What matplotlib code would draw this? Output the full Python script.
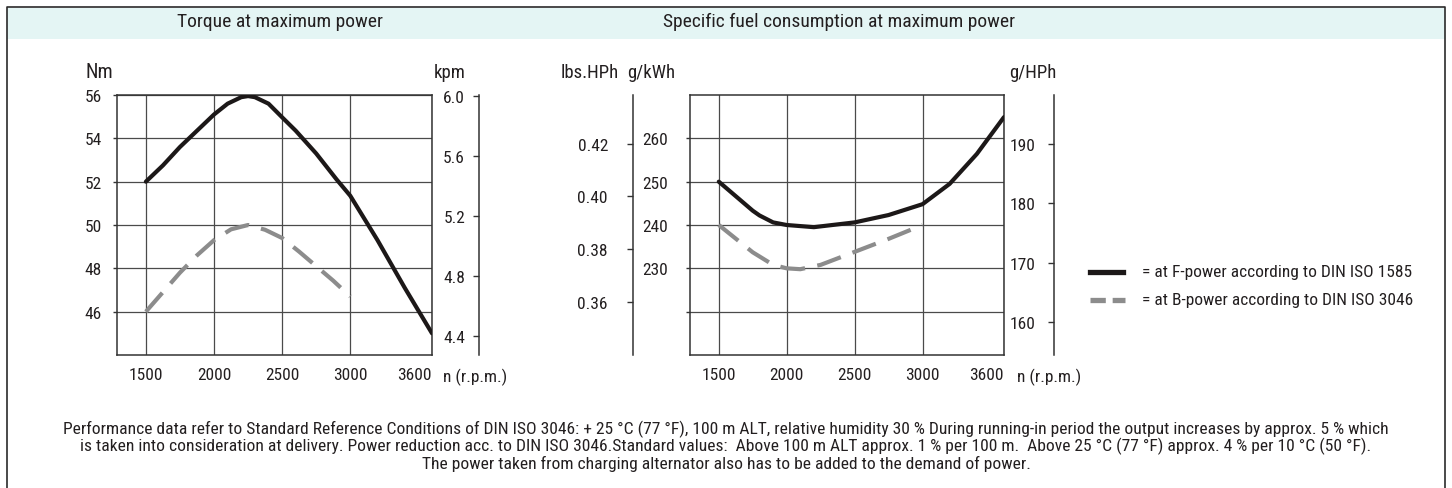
import matplotlib.pyplot as plt
from matplotlib.lines import Line2D
from matplotlib.patches import Rectangle

W, H = 1452, 489

# Torque at maximum power (rpm -> Nm)
torque_f_rpm = [1500, 1625, 1750, 1800, 1900, 2000, 2100, 2200, 2250, 2300, 2400, 2500,
                2600, 2750, 2900, 3000, 3200, 3400, 3600]
torque_f_nm = [52.0, 52.75, 53.6, 53.9, 54.5, 55.1, 55.6, 55.9, 55.95, 55.9, 55.6, 54.97,
               54.35, 53.3, 52.1, 51.35, 49.3, 47.1, 45.0]
torque_b_rpm = [1500, 1625, 1750, 1875, 2000, 2125, 2250, 2375, 2500, 2625, 2750, 2875, 3000]
torque_b_nm = [46.0, 46.9, 47.8, 48.6, 49.3, 49.8, 50.0, 49.78, 49.4, 48.77, 48.1, 47.43, 46.7]

# Specific fuel consumption (rpm -> g/kWh)
sfc_f_rpm = [1500, 1750, 1800, 1900, 2000, 2200, 2500, 2750, 3000, 3200, 3400, 3600]
sfc_f_gkwh = [250.0, 243.3, 242.2, 240.6, 240.0, 239.5, 240.6, 242.3, 244.8, 249.5, 256.4, 264.9]
sfc_b_rpm = [1500, 1750, 1900, 2000, 2100, 2250, 2500, 2750, 3000]
sfc_b_gkwh = [240.0, 233.7, 230.8, 230.0, 229.8, 230.8, 233.8, 236.8, 240.0]

rpm_ticks = [1500, 2000, 2500, 3000, 3600]
nm_ticks = [46, 48, 50, 52, 54, 56]
kpm_ticks = [4.4, 4.8, 5.2, 5.6, 6.0]
gkwh_ticks = [220, 230, 240, 250, 260]
gkwh_labels = ["", "230", "240", "250", "260"]
lbs_ticks = [0.36, 0.38, 0.40, 0.42]
ghph_ticks = [160, 170, 180, 190]

titles = ["Torque at maximum power", "Specific fuel consumption at maximum power"]
legend_labels = ["= at F-power according to DIN ISO 1585", "= at B-power according to DIN ISO 3046"]
footer = [
    "Performance data refer to Standard Reference Conditions of DIN ISO 3046: + 25 \u00b0C (77 \u00b0F), 100 m ALT, "
    "relative humidity 30 % During running-in period the output increases by approx. 5 % which",
    "is taken into consideration at delivery. Power reduction acc. to DIN ISO 3046.Standard values:  Above 100 m ALT "
    "approx. 1 % per 100 m.  Above 25 \u00b0C (77 \u00b0F) approx. 4 % per 10 \u00b0C (50 \u00b0F).",
    "The power taken from charging alternator also has to be added to the demand of power.",
]

plt.rcParams['font.family'] = ['Roboto Condensed', 'Liberation Sans', 'DejaVu Sans']
TXT = '#231f20'
LINE = '#333333'
BLACK = '#1c1818'
GRAY = '#8c8c8c'
TICK_FS = 12.5
UNIT_FS = 13.5


def box(x0, y0, x1, y1):
    return [x0 / W, 1 - y1 / H, (x1 - x0) / W, (y1 - y0) / H]


def fx(x):
    return x / W


def fy(y):
    return 1 - y / H


def main_axes(fig, x0, x1, ylim, yticks, ylabels, ypad):
    ax = fig.add_axes(box(x0, 96, x1, 356))
    ax.set_xlim(1288, 3600)
    ax.set_ylim(*ylim)
    ax.set_xticks(rpm_ticks)
    ax.set_xticklabels([str(t) for t in rpm_ticks])
    ax.get_xticklabels()[-1].set_horizontalalignment('right')
    ax.set_yticks(yticks)
    ax.set_yticklabels(ylabels)
    ax.tick_params(axis='x', length=0, pad=9, labelsize=TICK_FS, labelcolor=TXT)
    ax.tick_params(axis='y', length=3, width=1, color=LINE, pad=ypad, labelsize=TICK_FS, labelcolor=TXT)
    ax.grid(True, color='#4a4a4a', linewidth=0.9)
    for s in ax.spines.values():
        s.set_color(LINE)
        s.set_linewidth(1.1)
    ax.set_facecolor('none')
    return ax


def side_axis(fig, x, ylim, yticks, pad, fmt):
    a = fig.add_axes(box(x, 96, x + 0.5, 356))
    a.set_ylim(*ylim)
    a.set_yticks(yticks)
    a.set_yticklabels([fmt.format(t) for t in yticks])
    a.set_xticks([])
    for k in ['right', 'top', 'bottom']:
        a.spines[k].set_visible(False)
    a.spines['left'].set_color(LINE)
    a.spines['left'].set_linewidth(1.1)
    a.tick_params(axis='y', length=4, width=1, color=LINE, pad=pad, labelsize=TICK_FS, labelcolor=TXT)
    a.set_facecolor('none')
    return a


fig = plt.figure(figsize=(W / 100, H / 100), dpi=100)

# frame and header band
fig.patches.append(Rectangle((fx(7), fy(40)), fx(1445) - fx(7), fy(9) - fy(40),
                             transform=fig.transFigure, facecolor='#e4f5f4', edgecolor='none', zorder=0))
fig.add_artist(Line2D([fx(7), fx(7), fx(1445), fx(1445)], [0, fy(8), fy(8), 0],
                      transform=fig.transFigure, color='#2a2a2a', linewidth=1.2))
fig.text(fx(280), fy(22), titles[0], ha='center', va='center', fontsize=14, color=TXT)
fig.text(fx(839), fy(22), titles[1], ha='center', va='center', fontsize=14, color=TXT)

# ---- torque chart
ax1 = main_axes(fig, 117, 432, (44.0, 56.0), nm_ticks, [str(t) for t in nm_ticks], 8)
ax1.plot(torque_f_rpm, torque_f_nm, color=BLACK, linewidth=3.0, solid_capstyle='round', zorder=3)
ax1.plot(torque_b_rpm, torque_b_nm, color=GRAY, linewidth=3.0, dashes=(6, 3), zorder=3)
side_axis(fig, 479, (4.27, 6.01), kpm_ticks, 6, "{:.1f}")
fig.text(fx(99), fy(73), "Nm", ha='center', va='center', fontsize=14.5, color=TXT)
fig.text(fx(450), fy(73), "kpm", ha='center', va='center', fontsize=UNIT_FS, color=TXT)
fig.text(fx(443), fy(377), "n (r.p.m.)", ha='left', va='center', fontsize=TICK_FS, color=TXT)

# ---- fuel consumption chart
ax2 = main_axes(fig, 690, 1004, (210, 270), gkwh_ticks, gkwh_labels, 13)
ax2.plot(sfc_f_rpm, sfc_f_gkwh, color=BLACK, linewidth=3.0, solid_capstyle='round', zorder=3)
ax2.plot(sfc_b_rpm, sfc_b_gkwh, color=GRAY, linewidth=3.0, dashes=(6, 3), zorder=3)
side_axis(fig, 633, (0.3397, 0.4386), lbs_ticks, 14, "{:.2f}")
side_axis(fig, 1054, (154.5, 198.25), ghph_ticks, 9, "{:d}")
fig.text(fx(590), fy(73), "lbs.HPh", ha='center', va='center', fontsize=UNIT_FS, color=TXT)
fig.text(fx(651), fy(73), "g/kWh", ha='center', va='center', fontsize=UNIT_FS, color=TXT)
fig.text(fx(1033), fy(73), "g/HPh", ha='center', va='center', fontsize=UNIT_FS, color=TXT)
fig.text(fx(1017), fy(377), "n (r.p.m.)", ha='left', va='center', fontsize=TICK_FS, color=TXT)

# ---- legend
fig.add_artist(Line2D([fx(1090), fx(1123)], [fy(273), fy(273)], transform=fig.transFigure,
                      color=BLACK, linewidth=3.8))
fig.add_artist(Line2D([fx(1090), fx(1125)], [fy(301), fy(301)], transform=fig.transFigure,
                      color=GRAY, linewidth=3.8, dashes=(2.9, 1.3)))
fig.text(fx(1142), fy(273), legend_labels[0], ha='left', va='center', fontsize=TICK_FS, color=TXT)
fig.text(fx(1142), fy(301), legend_labels[1], ha='left', va='center', fontsize=TICK_FS, color=TXT)

# ---- footer
for line, y in zip(footer, [429, 446, 464]):
    fig.text(fx(726), fy(y), line, ha='center', va='center', fontsize=12.6, color=TXT)

fig.savefig("out.png", dpi=100, facecolor='white')
